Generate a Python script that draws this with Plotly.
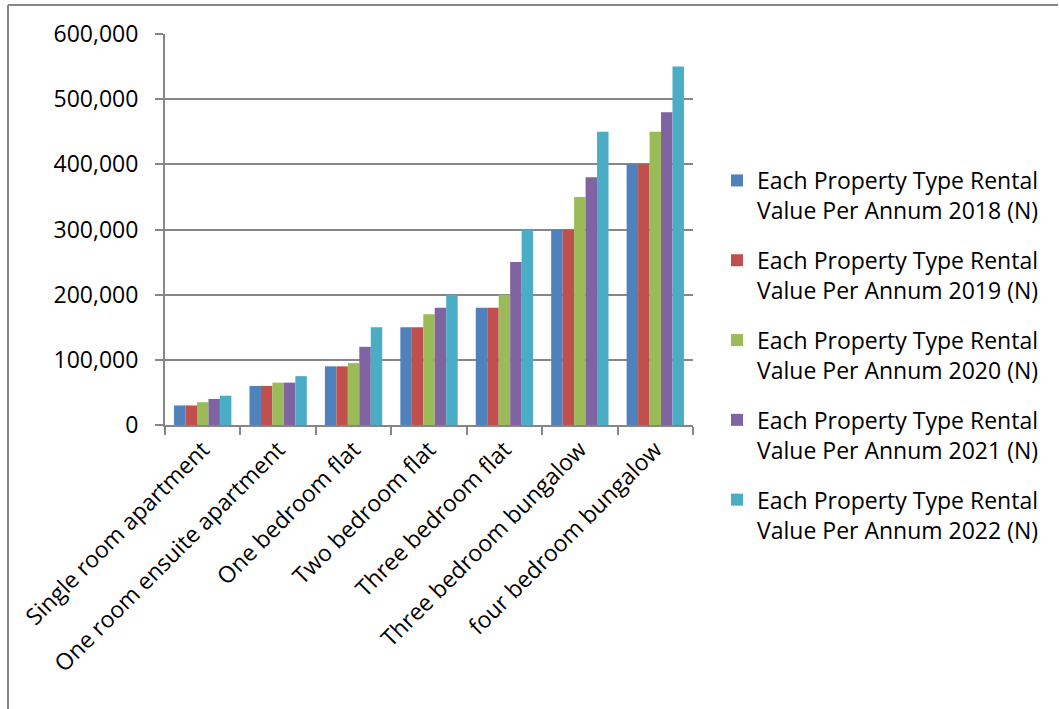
import plotly.graph_objects as go

categories = ["Single room apartment", "One room ensuite apartment", "One bedroom flat",
              "Two bedroom flat", "Three bedroom flat", "Three bedroom bungalow",
              "four bedroom bungalow"]
series_names = [f"Each Property Type Rental<br>Value Per Annum {y} (N)" for y in [2018, 2019, 2020, 2021, 2022]]
v2018 = [30000, 60000, 90000, 150000, 180000, 300000, 400000]
v2019 = [30000, 60000, 90000, 150000, 180000, 300000, 400000]
v2020 = [35000, 65000, 95000, 170000, 200000, 350000, 450000]
v2021 = [40000, 65000, 120000, 180000, 250000, 380000, 480000]
v2022 = [45000, 75000, 150000, 200000, 300000, 450000, 550000]
values = [v2018, v2019, v2020, v2021, v2022]
colors = ["#4F81BD", "#C0504D", "#9BBB59", "#8064A2", "#4BACC6"]
y_ticks = [0, 100000, 200000, 300000, 400000, 500000, 600000]

FONT = "Open Sans"
FS = 23
fig = go.Figure()
for i, (name, vals, c) in enumerate(zip(series_names, values, colors)):
    fig.add_trace(go.Bar(x=categories, y=vals, name=name, legendgroup=f"g{i}",
                         marker=dict(color=c, line=dict(width=0))))

W, H = 1059, 709
L, R, T, B = 165, 693, 34, 425
pw, ph = R - L, B - T

def px(x):
    return (x - L) / pw

def py(y):
    return (B - y) / ph

fig.update_layout(
    width=W, height=H,
    margin=dict(l=L, r=W - R, t=T, b=H - B, autoexpand=False),
    paper_bgcolor="white", plot_bgcolor="white",
    barmode="group", bargap=0.24, bargroupgap=0,
    font=dict(family=FONT, size=FS, color="black"),
    showlegend=True,
    legend=dict(x=px(717), y=py(355), xanchor="left", yanchor="middle",
                font=dict(family=FONT, size=FS, color="black"), valign="top",
                tracegroupgap=17, itemwidth=30, bgcolor="rgba(0,0,0,0)",
                maxheight=700),
    xaxis=dict(showline=True, linecolor="#868686", linewidth=2, ticks="outside",
               tickson="boundaries", ticklen=8, tickwidth=2, tickcolor="#868686",
               tickangle=-45, tickfont=dict(family=FONT, size=FS, color="black"),
               showgrid=False),
    yaxis=dict(range=[0, 600000], tickvals=y_ticks, tickformat=",d",
               showline=True, linecolor="#868686", linewidth=2, ticks="outside",
               ticklen=8, tickwidth=2, tickcolor="#868686", ticklabelstandoff=12,
               showgrid=True, gridcolor="#868686", gridwidth=1.5,
               tickfont=dict(family=FONT, size=FS, color="black"), zeroline=False),
    shapes=[
        dict(type="line", xref="paper", yref="paper", x0=px(8), x1=px(1058), y0=py(5), y1=py(5),
             line=dict(color="#868686", width=2)),
        dict(type="line", xref="paper", yref="paper", x0=px(8), x1=px(8), y0=py(5), y1=py(709),
             line=dict(color="#868686", width=2)),
    ],
)
fig.write_html("out.html")
